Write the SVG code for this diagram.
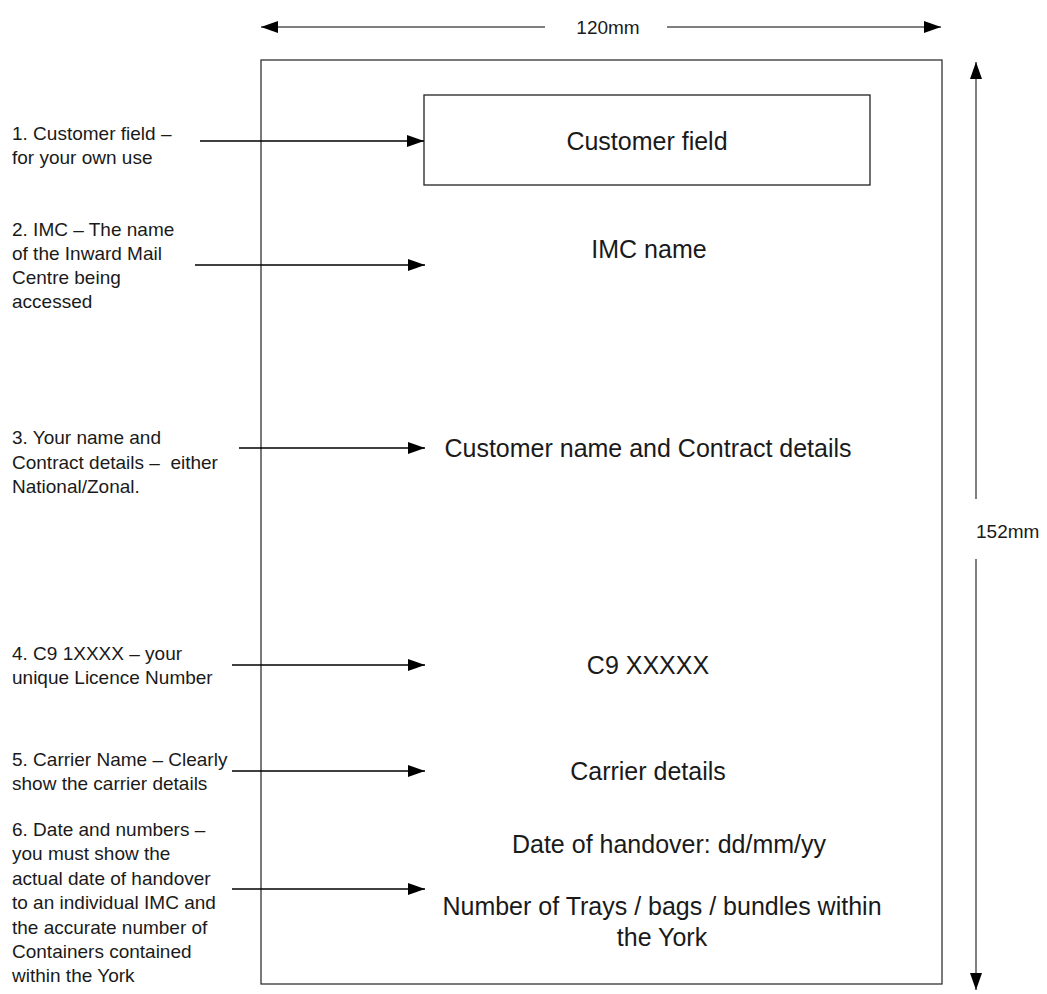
<svg xmlns="http://www.w3.org/2000/svg" width="1047" height="994" viewBox="0 0 1047 994">
<defs>
<marker id="ah" markerUnits="userSpaceOnUse" markerWidth="18" markerHeight="12" refX="17" refY="6" orient="auto">
<path d="M0,0 L17,6 L0,12 Z" fill="#000"/>
</marker>
</defs>
<style>
.sm{font-family:"Liberation Sans",Arial,sans-serif;font-size:19px;fill:#1a1a1a}
.lg{font-family:"Liberation Sans",Arial,sans-serif;font-size:25px;fill:#1a1a1a;text-anchor:middle}
.conn{stroke:#000;stroke-width:1.3;fill:none;marker-end:url(#ah)}
.dimA{stroke:#555;stroke-width:1.5;fill:none;marker-end:url(#ah)}
</style>
<rect width="1047" height="994" fill="#fff"/>

<g id="label-sheet">
<rect x="261" y="60" width="681" height="924" fill="none" stroke="#333" stroke-width="1.3"/>
</g>

<g id="dimension-width">
<line class="dimA" x1="545" y1="27" x2="261" y2="27"/>
<line class="dimA" x1="667" y1="27" x2="941" y2="27"/>
<text class="sm" x="608" y="34" text-anchor="middle">120mm</text>
</g>

<g id="dimension-height">
<line class="dimA" x1="976" y1="499" x2="976" y2="62"/>
<line class="dimA" x1="976" y1="559" x2="976" y2="990"/>
<text class="sm" x="976" y="538">152mm</text>
</g>

<g id="customer-field">
<rect x="424" y="95" width="446" height="90" fill="none" stroke="#222" stroke-width="1.3"/>
<text class="lg" x="647" y="150">Customer field</text>
</g>

<g id="imc-name"><text class="lg" x="649" y="258">IMC name</text></g>
<g id="customer-name"><text class="lg" x="648" y="457">Customer name and Contract details</text></g>
<g id="licence"><text class="lg" x="648" y="674">C9 XXXXX</text></g>
<g id="carrier"><text class="lg" x="648" y="780">Carrier details</text></g>
<g id="date"><text class="lg" x="669" y="853">Date of handover: dd/mm/yy</text></g>
<g id="number">
<text class="lg" x="662" y="915">Number of Trays / bags / bundles within</text>
<text class="lg" x="662" y="946">the York</text>
</g>

<g id="note-1">
<text class="sm" x="12" y="140">1. Customer field –</text>
<text class="sm" x="12" y="164">for your own use</text>
</g>
<g id="note-2">
<text class="sm" x="12" y="236">2. IMC – The name</text>
<text class="sm" x="12" y="260">of the Inward Mail</text>
<text class="sm" x="12" y="284">Centre being</text>
<text class="sm" x="12" y="308">accessed</text>
</g>
<g id="note-3">
<text class="sm" x="12" y="444">3. Your name and</text>
<text class="sm" x="12" y="468.5" xml:space="preserve">Contract details –  either</text>
<text class="sm" x="12" y="493">National/Zonal.</text>
</g>
<g id="note-4">
<text class="sm" x="12" y="660">4. C9 1XXXX – your</text>
<text class="sm" x="12" y="684">unique Licence Number</text>
</g>
<g id="note-5">
<text class="sm" x="12" y="766">5. Carrier Name – Clearly</text>
<text class="sm" x="12" y="790">show the carrier details</text>
</g>
<g id="note-6">
<text class="sm" x="12" y="836">6. Date and numbers –</text>
<text class="sm" x="12" y="860">you must show the</text>
<text class="sm" x="12" y="885">actual date of handover</text>
<text class="sm" x="12" y="909">to an individual IMC and</text>
<text class="sm" x="12" y="934">the accurate number of</text>
<text class="sm" x="12" y="958">Containers contained</text>
<text class="sm" x="12" y="982">within the York</text>
</g>

<g id="connectors">
<line class="conn" x1="200" y1="141" x2="424" y2="141"/>
<line class="conn" x1="195" y1="265" x2="425" y2="265"/>
<line class="conn" x1="239" y1="448" x2="425" y2="448"/>
<line class="conn" x1="232" y1="665" x2="425" y2="665"/>
<line class="conn" x1="232" y1="771" x2="425" y2="771"/>
<line class="conn" x1="232" y1="889" x2="425" y2="889"/>
</g>
</svg>
